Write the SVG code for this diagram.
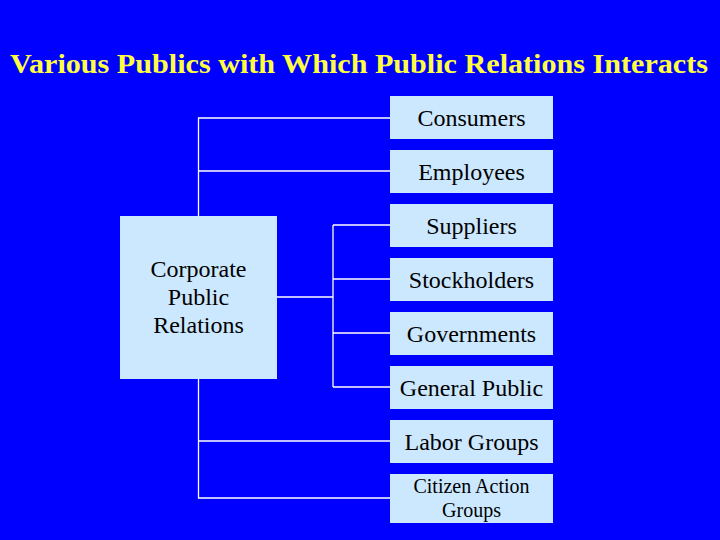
<svg xmlns="http://www.w3.org/2000/svg" width="720" height="540" viewBox="0 0 720 540">
<style>
.bg{fill:#0000FF}
.box{fill:#CCE8FF}
.lbl{font-family:"Liberation Serif","Times New Roman",serif;font-size:24px;fill:#000;text-anchor:middle}
.sm{font-size:20px}
.title{font-family:"Liberation Serif","Times New Roman",serif;font-size:28px;font-weight:bold;fill:#FFFF40;text-anchor:middle}
.conn{stroke:#FFFFFF;stroke-width:1.3;fill:none}
</style>
<rect class="bg" x="0" y="0" width="720" height="540"/>
<text class="title" x="359" y="73" textLength="698" lengthAdjust="spacingAndGlyphs">Various Publics with Which Public Relations Interacts</text>
<g id="connectors">
<path class="conn" d="M198.5,216 V118 H390 M198.5,171 H390"/>
<path class="conn" d="M198.5,379 V498 H390 M198.5,441 H390"/>
<path class="conn" d="M277,297 H333 M333,225 V387 M333,225 H390 M333,279 H390 M333,333 H390 M333,387 H390"/>
</g>
<g id="corporate">
<rect class="box" x="120" y="216" width="157" height="163"/>
<text class="lbl" x="198.5" y="277">Corporate</text>
<text class="lbl" x="198.5" y="305">Public</text>
<text class="lbl" x="198.5" y="333">Relations</text>
</g>
<g id="consumers"><rect class="box" x="390" y="96" width="163" height="43"/><text class="lbl" x="471.5" y="126">Consumers</text></g>
<g id="employees"><rect class="box" x="390" y="150" width="163" height="43"/><text class="lbl" x="471.5" y="180">Employees</text></g>
<g id="suppliers"><rect class="box" x="390" y="204" width="163" height="43"/><text class="lbl" x="471.5" y="234">Suppliers</text></g>
<g id="stockholders"><rect class="box" x="390" y="258" width="163" height="43"/><text class="lbl" x="471.5" y="288">Stockholders</text></g>
<g id="governments"><rect class="box" x="390" y="312" width="163" height="43"/><text class="lbl" x="471.5" y="342">Governments</text></g>
<g id="general-public"><rect class="box" x="390" y="366" width="163" height="43"/><text class="lbl" x="471.5" y="396">General Public</text></g>
<g id="labor-groups"><rect class="box" x="390" y="420" width="163" height="43"/><text class="lbl" x="471.5" y="450">Labor Groups</text></g>
<g id="citizen-action-groups"><rect class="box" x="390" y="474" width="163" height="49"/><text class="lbl sm" x="471.5" y="493">Citizen Action</text><text class="lbl sm" x="471.5" y="517">Groups</text></g>
</svg>
